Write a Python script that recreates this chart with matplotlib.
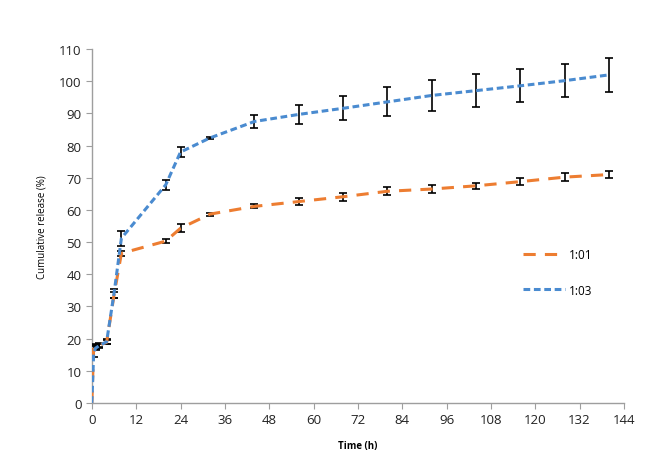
import numpy as np
import matplotlib.pyplot as plt

plt.rcParams['font.family'] = ['Open Sans', 'DejaVu Sans']

# --- Data ---
time_h = [0, 0.5, 1, 2, 4, 6, 8, 20, 24, 32, 44, 56, 68, 80, 92, 104, 116, 128, 140]

release_101 = [0, 17.5, 17.5, 18.0, 18.8, 33.5, 46.5, 50.3, 54.3, 58.7, 61.1, 62.6, 64.1,
               65.8, 66.5, 67.5, 68.8, 70.2, 71.0]
err_101 = [np.nan, 0.8, 0.6, 0.6, 0.6, 1.0, 0.8, 0.7, 1.2, 0.5, 0.6, 1.0, 1.2,
           1.2, 1.2, 0.9, 1.0, 1.2, 1.0]

release_103 = [0, 15.5, 17.0, 17.8, 19.0, 34.0, 51.2, 67.8, 78.0, 82.4, 87.5, 89.7, 91.6,
               93.6, 95.6, 97.1, 98.6, 100.2, 102.0]
err_103 = [np.nan, 1.2, 0.6, 0.6, 0.8, 1.5, 2.3, 1.5, 1.6, 0.4, 2.0, 2.9, 3.7,
           4.5, 4.9, 5.2, 5.1, 5.1, 5.4]

fig = plt.figure(figsize=(6.56, 4.6), dpi=100)
ax = fig.add_axes([0.140, 0.122, 0.811, 0.769])

l1 = ax.errorbar(time_h, release_101, yerr=err_101, color='#ED7D31', lw=2.2,
                 linestyle=(0, (4, 3)), ecolor='black', elinewidth=1.2, capsize=3,
                 capthick=1.2, zorder=3)
l2 = ax.errorbar(time_h, release_103, yerr=err_103, color='#4A8BD0', lw=2.2,
                 linestyle=(0, (2.2, 1.2)), ecolor='black', elinewidth=1.2, capsize=3,
                 capthick=1.2, zorder=3)

ax.set_xlim(0, 144)
ax.set_ylim(0, 110)
ax.set_xticks(np.arange(0, 145, 12))
ax.set_yticks(np.arange(0, 111, 10))

for side in ['top', 'right']:
    ax.spines[side].set_visible(False)
for side in ['left', 'bottom']:
    ax.spines[side].set_color('#9E9E9E')
    ax.spines[side].set_linewidth(1.0)
ax.tick_params(axis='both', colors='#9E9E9E', labelcolor='#222222',
               labelsize=9.5, direction='out', length=4)

ax.set_xlabel('Time (h)', fontsize=7, fontweight='bold', labelpad=10)
ax.set_ylabel('Cumulative release (%)', fontsize=7, labelpad=8)

ax.legend([l1[0], l2[0]], ['1:01', '1:03'], loc='center left',
          bbox_to_anchor=(0.79, 0.369), frameon=False, fontsize=8.5,
          handlelength=3.6, handletextpad=0.3, labelspacing=1.9)

fig.savefig('out.png', dpi=100)
